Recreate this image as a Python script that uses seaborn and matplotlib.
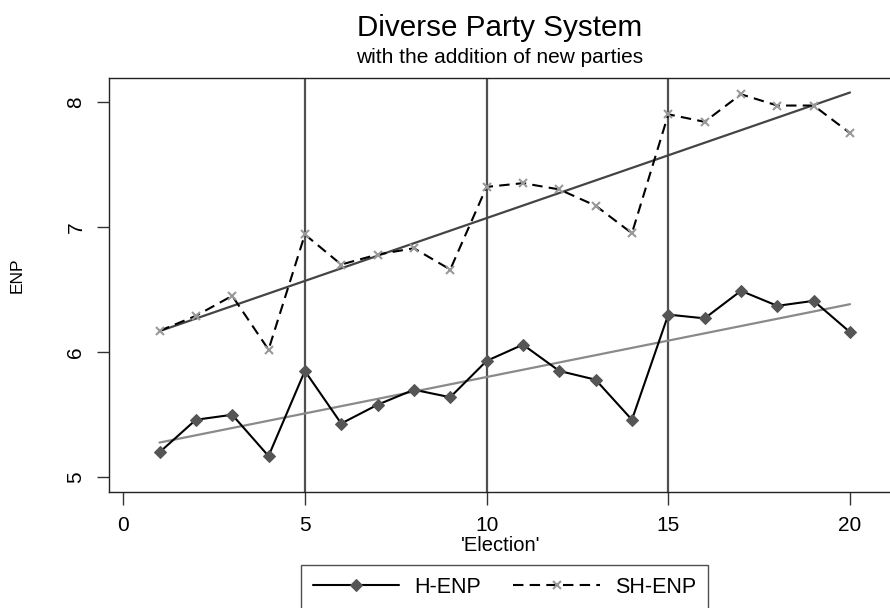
import matplotlib
matplotlib.use("Agg")
import matplotlib.pyplot as plt
import seaborn as sns
import pandas as pd
import numpy as np

elections = list(range(1, 21))
h_enp = [5.20, 5.46, 5.50, 5.17, 5.85, 5.43, 5.58, 5.70, 5.64, 5.93,
         6.06, 5.85, 5.78, 5.46, 6.30, 6.27, 6.49, 6.37, 6.41, 6.16]
sh_enp = [6.17, 6.29, 6.45, 6.02, 6.94, 6.70, 6.78, 6.83, 6.66, 7.32,
          7.35, 7.30, 7.17, 6.95, 7.90, 7.84, 8.06, 7.97, 7.97, 7.75]
break_points = [5, 10, 15]
x_ticks = [0, 5, 10, 15, 20]
y_ticks = [5, 6, 7, 8]

df = pd.DataFrame({"Election": elections, "H-ENP": h_enp, "SH-ENP": sh_enp})

sns.set_theme(style="white")
plt.rcParams["font.family"] = ["Liberation Sans", "DejaVu Sans"]
plt.rcParams["text.color"] = "black"
plt.rcParams["axes.labelcolor"] = "black"
plt.rcParams["xtick.color"] = "black"
plt.rcParams["ytick.color"] = "black"

W, H = 890, 608
fig = plt.figure(figsize=(W / 100, H / 100), dpi=100)
ax = fig.add_axes([109 / W, 1 - 492 / H, (W - 109) / W + 0.002, (492 - 78) / H])

for xb in break_points:
    ax.axvline(xb, color="#505050", lw=1.6, zorder=1)

sns.regplot(data=df, x="Election", y="SH-ENP", ax=ax, ci=None, scatter=False,
            line_kws=dict(color="#444444", lw=1.6, zorder=2))
sns.regplot(data=df, x="Election", y="H-ENP", ax=ax, ci=None, scatter=False,
            line_kws=dict(color="#8a8a8a", lw=1.6, zorder=2))

sns.lineplot(data=df, x="Election", y="H-ENP", ax=ax, color="black", lw=1.5,
             marker="D", markersize=6, markerfacecolor="#555555",
             markeredgecolor="#555555", label="H-ENP", zorder=3)
sns.lineplot(data=df, x="Election", y="SH-ENP", ax=ax, color="black", lw=1.5,
             linestyle=(0, (5, 3)), marker="x", markersize=6,
             markeredgewidth=1.5, markeredgecolor="#999999",
             label="SH-ENP", zorder=3)

ax.set_xlim(-0.39, 21.15)
ax.set_ylim(4.883, 8.19)
ax.set_xticks(x_ticks)
ax.set_yticks(y_ticks)
ax.set_xticklabels([str(t) for t in x_ticks], fontsize=15)
ax.set_yticklabels([str(t) for t in y_ticks], fontsize=15, rotation=90, va="center")
ax.tick_params(axis="both", direction="out", length=9, width=1, color="#333333",
               labelcolor="black", bottom=True, left=True)
ax.tick_params(axis="y", pad=8)
ax.tick_params(axis="x", pad=8)
for s in ax.spines.values():
    s.set_color("#222222")
    s.set_linewidth(1.0)

ax.set_xlabel("'Election'", fontsize=14.5, labelpad=1, color="black")
ax.set_ylabel("")
fig.text(17 / W, 1 - 275 / H, "ENP", rotation=90, fontsize=12.5,
         ha="center", va="center", color="black")

fig.text(499.5 / W, 1 - 36 / H, "Diverse Party System", fontsize=21.3,
         ha="center", va="baseline", color="black")
fig.text(499.5 / W, 1 - 63 / H, "with the addition of new parties", fontsize=15,
         ha="center", va="baseline", color="black")

handles, labels = ax.get_legend_handles_labels()
ax.get_legend().remove()
leg = fig.legend(handles, labels, loc="upper center",
                 bbox_to_anchor=(504.5 / W, 1 - 565 / H), ncol=2,
                 fontsize=15.5, frameon=True, fancybox=False, shadow=False,
                 handlelength=4, handletextpad=0.7, columnspacing=1.5,
                 borderpad=0.55, borderaxespad=0, labelcolor="black")
leg.get_frame().set_edgecolor("#222222")
leg.get_frame().set_linewidth(1.0)

fig.savefig("out.png", dpi=100)
